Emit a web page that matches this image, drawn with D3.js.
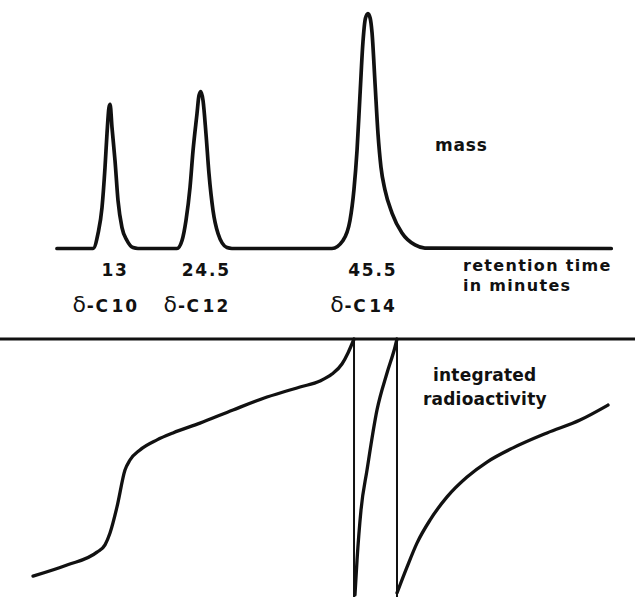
<!DOCTYPE html>
<html>
<head>
<meta charset="utf-8">
<script src="https://cdn.jsdelivr.net/npm/d3@7"></script>
<style>
	html, body { margin: 0; padding: 0; background: #fff; }
	svg { display: block; }
	.lbl { font-family: "DejaVu Sans", sans-serif; font-weight: bold; fill: #111; font-size: 17px; letter-spacing: 0.8px; }
</style>
</head>
<body>
<svg id="chart"></svg>
<script>
// retention time (min) vs mass detector signal (% of largest peak)
const massTime = [6.3, 10.85, 11.48, 11.98, 12.36, 12.61, 12.86, 13.0, 13.24, 13.62, 14.0, 14.5, 15.13, 15.89, 16.52,
	21.44, 22.07, 22.57, 23.08, 23.46, 23.96, 24.21, 24.46, 24.72, 25.09, 25.47, 25.98, 26.61, 27.74, 28.37,
	40.98, 42.37, 43.25, 43.75, 44.14, 44.51, 44.89, 45.2, 45.52, 45.8, 46.03, 46.41, 46.78, 47.16, 47.67, 48.55, 49.81, 51.45, 52.71, 76.2];
const massSignal = [0, 0, 6.4, 17.4, 34.5, 48.9, 60.0, 61.3, 51.5, 37.4, 20.4, 8.9, 3.4, 0.4, 0,
	0, 3.4, 11.9, 26, 41.7, 57.4, 65.1, 66.8, 63, 48.9, 31.9, 16.2, 6.4, 0.4, 0,
	0, 3.4, 11.9, 25, 41.8, 65, 88, 98, 100, 98, 91.9, 70.3, 49, 34.6, 24.8, 15.1, 6.6, 1.5, 0.2, 0];

// integrated radioactivity, % of recorder full scale (pen resets at 100)
const radTime1 = [3.28, 7.57, 11.35, 12.36, 12.99, 13.87, 14.88, 15.51, 16.77, 18.92, 20.93, 24.34, 28.5, 32.79, 36.95, 39.47, 40.98, 42.24, 43.0, 43.76];
const radValue1 = [8.1, 12.4, 17.4, 20.2, 24.8, 34.9, 49.2, 53.1, 57.0, 60.9, 63.6, 67.4, 72.5, 77.5, 81.4, 83.7, 86.4, 90.3, 94.6, 100];
const radTime2 = [43.88, 44.14, 44.64, 45.4, 46.66, 47.92, 48.93, 49.18];
const radValue2 = [0.8, 14.3, 33.7, 49.2, 72.5, 86.8, 96.9, 100];
const radTime3 = [49.18, 50.44, 51.7, 53.34, 55.49, 58.01, 60.53, 63.81, 68.1, 72.26, 75.79];
const radValue3 = [1.6, 11.6, 20.9, 29.8, 38.8, 46.5, 52.3, 57.8, 63.6, 68.6, 74.4];
const resetTimes = [43.76, 49.18];

// peaks: retention time label and compound
const peakTimes = [13, 24.5, 45.5];
const peakTimeLabels = ["13", "24.5", "45.5"];
const compounds = ["10", "12", "14"];

const width = 635, height = 597;

const svg = d3.select("#chart")
	.attr("width", width)
	.attr("height", height);

const x = d3.scaleLinear().domain([0, 80]).range([7, 641.4]);
const yMass = d3.scaleLinear().domain([0, 100]).range([248.5, 13.5]);
const yRad = d3.scaleLinear().domain([0, 100]).range([597, 339]);

function drawMass() {
	const pts = massTime.map((t, i) => [t, massSignal[i]]);
	const line = d3.line()
		.x(d => x(d[0]))
		.y(d => yMass(d[1]))
		.curve(d3.curveMonotoneX);

	svg.append("path")
		.datum(pts)
		.attr("d", line)
		.attr("fill", "none")
		.attr("stroke", "#111")
		.attr("stroke-width", 3.7)
		.attr("stroke-linejoin", "round")
		.attr("stroke-linecap", "round");

	svg.append("text")
		.attr("class", "lbl")
		.attr("x", 435)
		.attr("y", 151)
		.text("mass");

	// axis title, two lines
	svg.append("text")
		.attr("class", "lbl")
		.attr("x", 463)
		.attr("y", 271)
		.style("font-size", "16px")
		.style("letter-spacing", "1.3px")
		.text("retention time");

	svg.append("text")
		.attr("class", "lbl")
		.attr("x", 463)
		.attr("y", 291)
		.style("font-size", "16px")
		.style("letter-spacing", "1.3px")
		.text("in minutes");

	// retention times under each peak
	svg.selectAll("text.rt")
		.data(peakTimes)
		.enter()
		.append("text")
		.attr("class", "lbl rt")
		.attr("x", d => x(d) + 5)
		.attr("y", 276)
		.attr("text-anchor", "middle")
		.style("letter-spacing", "1.8px")
		.text((d, i) => peakTimeLabels[i]);

	// compound names
	const names = svg.selectAll("text.cmp")
		.data(peakTimes)
		.enter()
		.append("text")
		.attr("class", "cmp")
		.attr("x", d => x(d) + 29)
		.attr("y", 312)
		.attr("text-anchor", "end")
		.style("font-family", "'DejaVu Sans', sans-serif")
		.style("fill", "#111");
	names.append("tspan")
		.style("font-size", "22px")
		.text("δ");
	names.append("tspan")
		.attr("dx", 1)
		.style("font-size", "17px")
		.style("font-weight", "bold")
		.style("letter-spacing", "1.5px")
		.text("-C");
	names.append("tspan")
		.attr("dx", 2)
		.style("font-size", "17px")
		.style("font-weight", "bold")
		.style("letter-spacing", "2px")
		.text((d, i) => compounds[i]);
}

function drawRadioactivity() {
	const line = d3.line()
		.x(d => x(d[0]))
		.y(d => yRad(d[1]))
		.curve(d3.curveMonotoneX);

	// full scale line
	svg.append("line")
		.attr("x1", 0)
		.attr("x2", width)
		.attr("y1", yRad(100))
		.attr("y2", yRad(100))
		.attr("stroke", "#111")
		.attr("stroke-width", 2.8);

	// pen reset lines
	svg.selectAll("line.reset")
		.data(resetTimes)
		.enter()
		.append("line")
		.attr("class", "reset")
		.attr("x1", d => x(d))
		.attr("x2", d => x(d))
		.attr("y1", yRad(100))
		.attr("y2", yRad(0))
		.attr("stroke", "#111")
		.attr("stroke-width", 2);

	const segments = [
		radTime1.map((t, i) => [t, radValue1[i]]),
		radTime2.map((t, i) => [t, radValue2[i]]),
		radTime3.map((t, i) => [t, radValue3[i]])
	];

	svg.selectAll("path.rad")
		.data(segments)
		.enter()
		.append("path")
		.attr("class", "rad")
		.attr("d", line)
		.attr("fill", "none")
		.attr("stroke", "#111")
		.attr("stroke-width", 3.3)
		.attr("stroke-linejoin", "round")
		.attr("stroke-linecap", "round");

	svg.append("text")
		.attr("class", "lbl")
		.attr("x", 433)
		.attr("y", 381)
		.style("letter-spacing", "0.2px")
		.text("integrated");

	svg.append("text")
		.attr("class", "lbl")
		.attr("x", 423)
		.attr("y", 405)
		.style("letter-spacing", "0.2px")
		.text("radioactivity");
}

drawMass();
drawRadioactivity();
</script>
</body>
</html>
